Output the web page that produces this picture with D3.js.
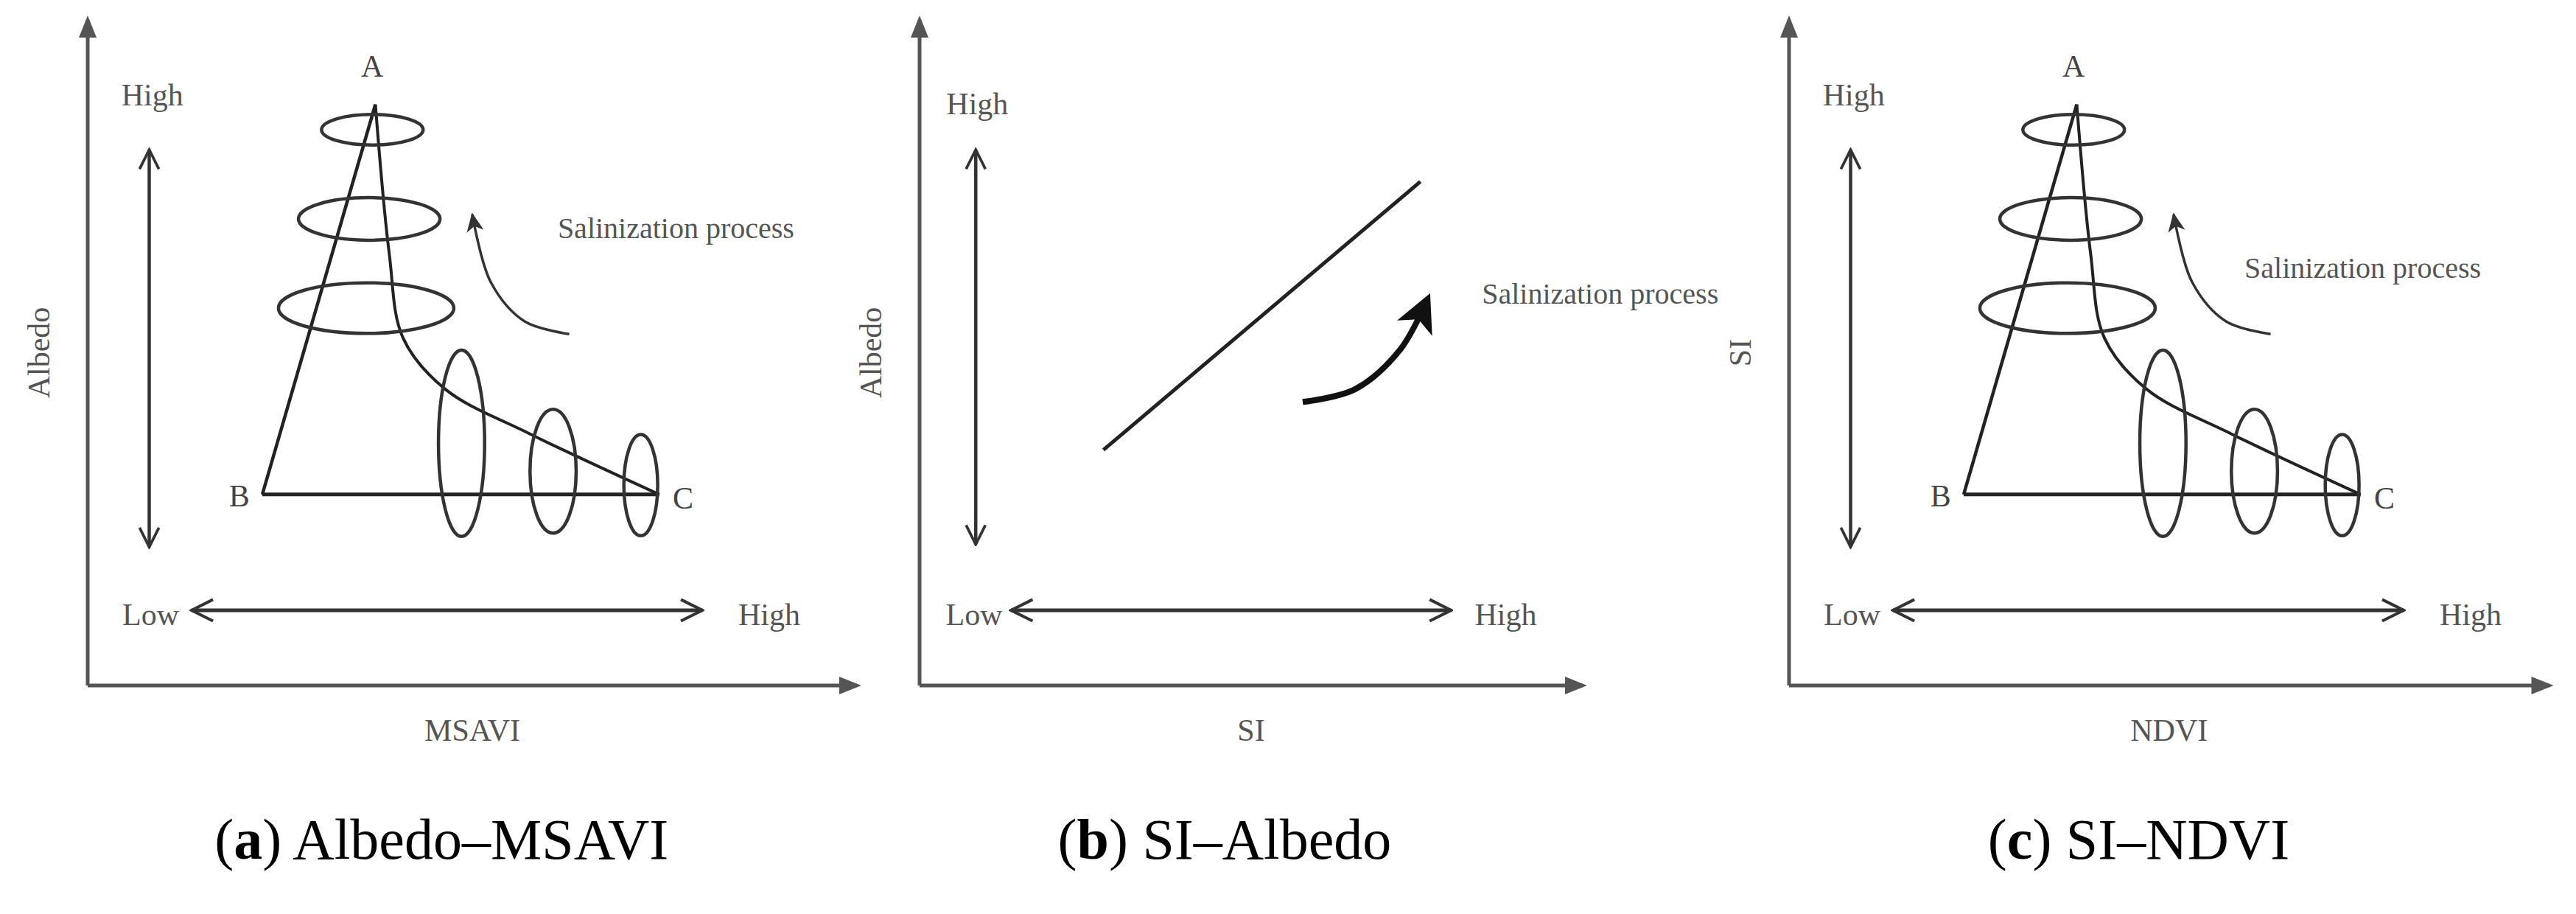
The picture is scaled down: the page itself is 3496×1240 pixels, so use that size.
<!DOCTYPE html>
<html>
<head>
<meta charset="utf-8">
<script src="https://cdn.jsdelivr.net/npm/d3@7"></script>
<style>
  body { margin: 0; background: #fff; }
  text { font-family: "Liberation Serif", serif; }
</style>
</head>
<body>
<script>
// DATA (diagram units: 0..100 on each axis, same scale for all panels)
var panels = [
  { id: "a", title: "Albedo–MSAVI", xLabel: "MSAVI", yLabel: "Albedo", origin: 119, xEnd: 100, kind: "triangle", procLabel: [61.1, 68.2] },
  { id: "b", title: "SI–Albedo", xLabel: "SI", yLabel: "Albedo", origin: 1248, xEnd: 86.2, kind: "line", procLabel: [73.1, 58.4] },
  { id: "c", title: "SI–NDVI", xLabel: "NDVI", yLabel: "SI", origin: 2428, xEnd: 98.8, kind: "triangle", procLabel: [59.2, 62.3] }
];
var vertices = { A: [37.4, 87.3], B: [22.7, 28.7], C: [74.3, 28.7] };
var vertexLabels = [["A", 37.0, 92.5], ["B", 19.7, 28.0], ["C", 77.4, 27.6]];
var curvePoints = [[37.4, 87.3], [39.2, 64.9], [41.0, 52.2], [46.5, 44.5], [57.5, 37.8], [74.3, 28.7]];
// ellipses: cx, cy, rx, ry
var ellipses = [[37.0, 83.5, 6.6, 2.3], [36.6, 70.1, 9.2, 3.2], [36.2, 56.7, 11.4, 3.8],
                [48.6, 36.4, 3.0, 14.0], [60.5, 32.2, 3.0, 9.3], [71.9, 30.1, 2.2, 7.6]];
var processArrowA = [[62.6, 52.8], [56.8, 54.7], [52.4, 60.6], [50.0, 70.8]];
var lineB = [[23.9, 35.4], [65.1, 75.7]];
var processArrowB = [[49.8, 42.6], [56.6, 44.5], [62.5, 50.5], [65.7, 57.2]];
var levelLabels = { a: [[8.4, 88.2, "High"], [8.2, 10.2, "Low"], [88.6, 10.2, "High"]],
                    b: [[7.5, 86.9, "High"], [7.1, 10.2, "Low"], [76.2, 10.2, "High"]],
                    c: [[8.4, 88.2, "High"], [8.2, 10.2, "Low"], [88.6, 10.2, "High"]] };
var vArrow = { a: [8.0, 80.5, 20.8], b: [7.3, 80.5, 21.2], c: [8.0, 80.5, 20.8] };
var hArrow = { a: [11.3, 13.5, 79.9], b: [11.3, 11.9, 69.1], c: [11.3, 13.5, 79.9] };

var W = 3496, H = 1240;
var svg = d3.select("body").append("svg").attr("width", W).attr("height", H);
var defs = svg.append("defs");

defs.append("marker").attr("id", "axisHead").attr("viewBox", "0 0 10 10")
  .attr("refX", 8).attr("refY", 5).attr("markerWidth", 6).attr("markerHeight", 6)
  .attr("orient", "auto").attr("markerUnits", "strokeWidth")
  .append("path").attr("d", "M0,1 L10,5 L0,9 z").attr("fill", "#555");
defs.append("marker").attr("id", "chev").attr("viewBox", "0 0 12 12")
  .attr("refX", 11).attr("refY", 6).attr("markerWidth", 7).attr("markerHeight", 7)
  .attr("orient", "auto-start-reverse").attr("markerUnits", "strokeWidth")
  .append("path").attr("d", "M1,1 L11,6 L1,11").attr("fill", "none").attr("stroke", "#333").attr("stroke-width", 1.4);
defs.append("marker").attr("id", "thin").attr("viewBox", "0 0 12 12")
  .attr("refX", 10).attr("refY", 6).attr("markerWidth", 8).attr("markerHeight", 8)
  .attr("orient", "auto").attr("markerUnits", "strokeWidth")
  .append("path").attr("d", "M0,1 L11,6 L0,11 L3,6 z").attr("fill", "#333");
defs.append("marker").attr("id", "bold").attr("viewBox", "0 0 12 12")
  .attr("refX", 8).attr("refY", 6).attr("markerWidth", 6.5).attr("markerHeight", 6.5)
  .attr("orient", "auto").attr("markerUnits", "strokeWidth")
  .append("path").attr("d", "M0,0 L12,6 L0,12 L3,6 z").attr("fill", "#111");

panels.forEach(function(p) {
  var x = d3.scaleLinear().domain([0, 100]).range([p.origin, p.origin + 1044]);
  var y = d3.scaleLinear().domain([0, 100]).range([930, 27]);
  var g = svg.append("g");
  var line = d3.line().x(function(d) { return x(d[0]); }).y(function(d) { return y(d[1]); });
  var curve = d3.line().curve(d3.curveCatmullRom).x(function(d) { return x(d[0]); }).y(function(d) { return y(d[1]); });

  // main axes
  g.append("path").attr("d", line([[0, 0], [0, 100]])).attr("stroke", "#555").attr("stroke-width", 5)
    .attr("fill", "none").attr("marker-end", "url(#axisHead)");
  g.append("path").attr("d", line([[0, 0], [p.xEnd, 0]])).attr("stroke", "#555").attr("stroke-width", 5)
    .attr("fill", "none").attr("marker-end", "url(#axisHead)");

  // level arrows
  var va = vArrow[p.id], ha = hArrow[p.id];
  g.append("path").attr("d", line([[va[0], va[2]], [va[0], va[1]]])).attr("stroke", "#333").attr("stroke-width", 4.5)
    .attr("fill", "none").attr("marker-start", "url(#chev)").attr("marker-end", "url(#chev)");
  g.append("path").attr("d", line([[ha[1], ha[0]], [ha[2], ha[0]]])).attr("stroke", "#333").attr("stroke-width", 5)
    .attr("fill", "none").attr("marker-start", "url(#chev)").attr("marker-end", "url(#chev)");

  g.selectAll(".lvl").data(levelLabels[p.id]).enter().append("text")
    .attr("x", function(d) { return x(d[0]); }).attr("y", function(d) { return y(d[1]); })
    .attr("text-anchor", "middle").attr("dominant-baseline", "middle")
    .attr("font-size", 42).attr("fill", "#555").text(function(d) { return d[2]; });

  var tx = x(p.procLabel[0]), ty = y(p.procLabel[1]);
  g.append("text").attr("x", tx).attr("y", ty).attr("dominant-baseline", "middle")
    .attr("font-size", 40).attr("fill", "#555").text("Salinization process");

  if (p.kind === "triangle") {
    g.append("path").attr("d", line([vertices.B, vertices.A])).attr("stroke", "#222").attr("stroke-width", 4.5).attr("fill", "none");
    g.append("path").attr("d", line([vertices.B, vertices.C])).attr("stroke", "#222").attr("stroke-width", 5).attr("fill", "none");
    g.append("path").attr("d", curve(curvePoints)).attr("stroke", "#222").attr("stroke-width", 4).attr("fill", "none");
    g.selectAll("ellipse").data(ellipses).enter().append("ellipse")
      .attr("cx", function(d) { return x(d[0]); }).attr("cy", function(d) { return y(d[1]); })
      .attr("rx", function(d) { return x(d[2]) - x(0); }).attr("ry", function(d) { return y(0) - y(d[3]); })
      .attr("fill", "none").attr("stroke", "#333").attr("stroke-width", 4.5);
    g.selectAll(".vx").data(vertexLabels).enter().append("text")
      .attr("x", function(d) { return x(d[1]); }).attr("y", function(d) { return y(d[2]); })
      .attr("text-anchor", "middle").attr("dominant-baseline", "middle")
      .attr("font-size", 42).attr("fill", "#444").text(function(d) { return d[0]; });
    g.append("path").attr("d", curve(processArrowA)).attr("stroke", "#333").attr("stroke-width", 3.5)
      .attr("fill", "none").attr("marker-end", "url(#thin)");
  } else {
    g.append("path").attr("d", line(lineB)).attr("stroke", "#222").attr("stroke-width", 5).attr("fill", "none");
    g.append("path").attr("d", curve(processArrowB)).attr("stroke", "#111").attr("stroke-width", 8)
      .attr("fill", "none").attr("marker-end", "url(#bold)");
  }

  // axis titles
  g.append("text").attr("transform", "translate(" + (x(0) - 62) + "," + y(50) + ") rotate(-90)")
    .attr("text-anchor", "middle").attr("dominant-baseline", "middle")
    .attr("font-size", 42).attr("fill", "#555").text(p.yLabel);
  g.append("text").attr("x", x(p.xEnd * 0.5)).attr("y", 995).attr("text-anchor", "middle")
    .attr("dominant-baseline", "middle").attr("font-size", 42).attr("fill", "#555").text(p.xLabel);

  // caption
  var cap = g.append("text").attr("x", x(p.xEnd * 0.46)).attr("y", 1165).attr("text-anchor", "middle")
    .attr("font-size", 78).attr("fill", "#000");
  cap.append("tspan").text("(");
  cap.append("tspan").attr("font-weight", "bold").text(p.id);
  cap.append("tspan").text(") " + p.title);
});
</script>
</body>
</html>
